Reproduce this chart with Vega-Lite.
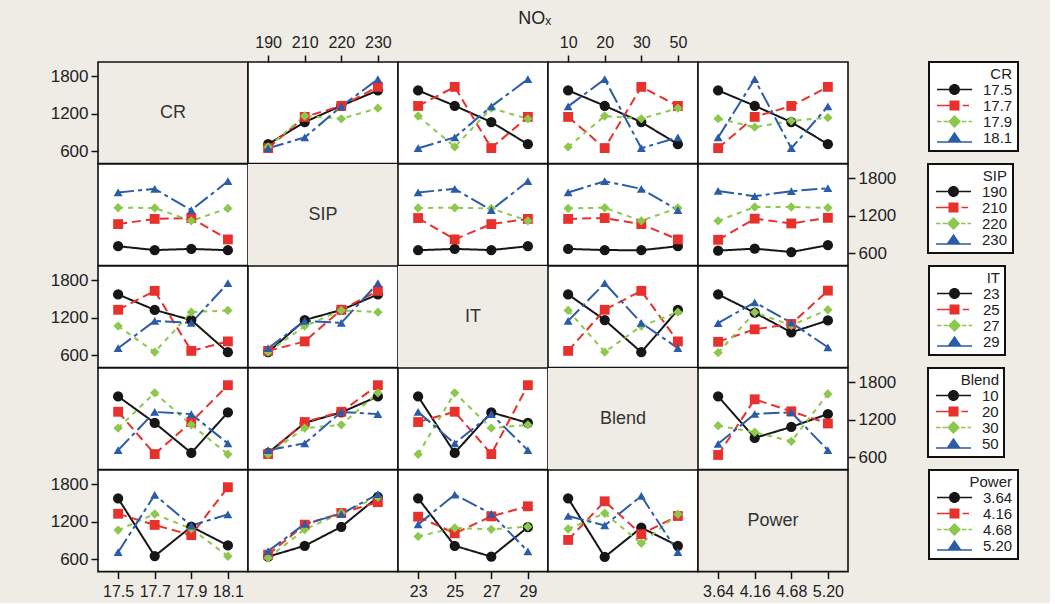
{
"$schema": "https://vega.github.io/schema/vega-lite/v6.json",
"background": "#efece6",
"padding": {"left": 49, "top": 10, "right": 30, "bottom": 2},
"title": {"text": "NOₓ", "anchor": "middle", "fontSize": 18, "fontWeight": "normal", "color": "#222", "offset": 5},
"datasets": {"cells": [
{"f1":"CR","l1":"17.5","f2":"SIP","l2":"190","y":711},{"f1":"CR","l1":"17.5","f2":"SIP","l2":"210","y":1066},{"f1":"CR","l1":"17.5","f2":"SIP","l2":"220","y":1328},{"f1":"CR","l1":"17.5","f2":"SIP","l2":"230","y":1574},
{"f1":"CR","l1":"17.7","f2":"SIP","l2":"190","y":649},{"f1":"CR","l1":"17.7","f2":"SIP","l2":"210","y":1149},{"f1":"CR","l1":"17.7","f2":"SIP","l2":"220","y":1325},{"f1":"CR","l1":"17.7","f2":"SIP","l2":"230","y":1631},
{"f1":"CR","l1":"17.9","f2":"SIP","l2":"190","y":668},{"f1":"CR","l1":"17.9","f2":"SIP","l2":"210","y":1163},{"f1":"CR","l1":"17.9","f2":"SIP","l2":"220","y":1118},{"f1":"CR","l1":"17.9","f2":"SIP","l2":"230","y":1290},
{"f1":"CR","l1":"18.1","f2":"SIP","l2":"190","y":647},{"f1":"CR","l1":"18.1","f2":"SIP","l2":"210","y":820},{"f1":"CR","l1":"18.1","f2":"SIP","l2":"220","y":1318},{"f1":"CR","l1":"18.1","f2":"SIP","l2":"230","y":1754},
{"f1":"CR","l1":"17.5","f2":"IT","l2":"23","y":1574},{"f1":"CR","l1":"17.5","f2":"IT","l2":"25","y":1328},{"f1":"CR","l1":"17.5","f2":"IT","l2":"27","y":1066},{"f1":"CR","l1":"17.5","f2":"IT","l2":"29","y":711},
{"f1":"CR","l1":"17.7","f2":"IT","l2":"23","y":1325},{"f1":"CR","l1":"17.7","f2":"IT","l2":"25","y":1631},{"f1":"CR","l1":"17.7","f2":"IT","l2":"27","y":649},{"f1":"CR","l1":"17.7","f2":"IT","l2":"29","y":1149},
{"f1":"CR","l1":"17.9","f2":"IT","l2":"23","y":1163},{"f1":"CR","l1":"17.9","f2":"IT","l2":"25","y":668},{"f1":"CR","l1":"17.9","f2":"IT","l2":"27","y":1290},{"f1":"CR","l1":"17.9","f2":"IT","l2":"29","y":1118},
{"f1":"CR","l1":"18.1","f2":"IT","l2":"23","y":647},{"f1":"CR","l1":"18.1","f2":"IT","l2":"25","y":820},{"f1":"CR","l1":"18.1","f2":"IT","l2":"27","y":1318},{"f1":"CR","l1":"18.1","f2":"IT","l2":"29","y":1754},
{"f1":"CR","l1":"17.5","f2":"Blend","l2":"10","y":1574},{"f1":"CR","l1":"17.5","f2":"Blend","l2":"20","y":1328},{"f1":"CR","l1":"17.5","f2":"Blend","l2":"30","y":1066},{"f1":"CR","l1":"17.5","f2":"Blend","l2":"50","y":711},
{"f1":"CR","l1":"17.7","f2":"Blend","l2":"10","y":1149},{"f1":"CR","l1":"17.7","f2":"Blend","l2":"20","y":649},{"f1":"CR","l1":"17.7","f2":"Blend","l2":"30","y":1631},{"f1":"CR","l1":"17.7","f2":"Blend","l2":"50","y":1325},
{"f1":"CR","l1":"17.9","f2":"Blend","l2":"10","y":668},{"f1":"CR","l1":"17.9","f2":"Blend","l2":"20","y":1163},{"f1":"CR","l1":"17.9","f2":"Blend","l2":"30","y":1118},{"f1":"CR","l1":"17.9","f2":"Blend","l2":"50","y":1290},
{"f1":"CR","l1":"18.1","f2":"Blend","l2":"10","y":1318},{"f1":"CR","l1":"18.1","f2":"Blend","l2":"20","y":1754},{"f1":"CR","l1":"18.1","f2":"Blend","l2":"30","y":647},{"f1":"CR","l1":"18.1","f2":"Blend","l2":"50","y":820},
{"f1":"CR","l1":"17.5","f2":"Power","l2":"3.64","y":1574},{"f1":"CR","l1":"17.5","f2":"Power","l2":"4.16","y":1328},{"f1":"CR","l1":"17.5","f2":"Power","l2":"4.68","y":1066},{"f1":"CR","l1":"17.5","f2":"Power","l2":"5.20","y":711},
{"f1":"CR","l1":"17.7","f2":"Power","l2":"3.64","y":649},{"f1":"CR","l1":"17.7","f2":"Power","l2":"4.16","y":1149},{"f1":"CR","l1":"17.7","f2":"Power","l2":"4.68","y":1325},{"f1":"CR","l1":"17.7","f2":"Power","l2":"5.20","y":1631},
{"f1":"CR","l1":"17.9","f2":"Power","l2":"3.64","y":1121},{"f1":"CR","l1":"17.9","f2":"Power","l2":"4.16","y":985},{"f1":"CR","l1":"17.9","f2":"Power","l2":"4.68","y":1086},{"f1":"CR","l1":"17.9","f2":"Power","l2":"5.20","y":1137},
{"f1":"CR","l1":"18.1","f2":"Power","l2":"3.64","y":820},{"f1":"CR","l1":"18.1","f2":"Power","l2":"4.16","y":1754},{"f1":"CR","l1":"18.1","f2":"Power","l2":"4.68","y":647},{"f1":"CR","l1":"18.1","f2":"Power","l2":"5.20","y":1318},
{"f1":"SIP","l1":"190","f2":"IT","l2":"23","y":647},{"f1":"SIP","l1":"190","f2":"IT","l2":"25","y":668},{"f1":"SIP","l1":"190","f2":"IT","l2":"27","y":649},{"f1":"SIP","l1":"190","f2":"IT","l2":"29","y":711},
{"f1":"SIP","l1":"210","f2":"IT","l2":"23","y":1163},{"f1":"SIP","l1":"210","f2":"IT","l2":"25","y":820},{"f1":"SIP","l1":"210","f2":"IT","l2":"27","y":1066},{"f1":"SIP","l1":"210","f2":"IT","l2":"29","y":1149},
{"f1":"SIP","l1":"220","f2":"IT","l2":"23","y":1325},{"f1":"SIP","l1":"220","f2":"IT","l2":"25","y":1328},{"f1":"SIP","l1":"220","f2":"IT","l2":"27","y":1318},{"f1":"SIP","l1":"220","f2":"IT","l2":"29","y":1118},
{"f1":"SIP","l1":"230","f2":"IT","l2":"23","y":1574},{"f1":"SIP","l1":"230","f2":"IT","l2":"25","y":1631},{"f1":"SIP","l1":"230","f2":"IT","l2":"27","y":1290},{"f1":"SIP","l1":"230","f2":"IT","l2":"29","y":1754},
{"f1":"SIP","l1":"190","f2":"Blend","l2":"10","y":668},{"f1":"SIP","l1":"190","f2":"Blend","l2":"20","y":649},{"f1":"SIP","l1":"190","f2":"Blend","l2":"30","y":647},{"f1":"SIP","l1":"190","f2":"Blend","l2":"50","y":711},
{"f1":"SIP","l1":"210","f2":"Blend","l2":"10","y":1149},{"f1":"SIP","l1":"210","f2":"Blend","l2":"20","y":1163},{"f1":"SIP","l1":"210","f2":"Blend","l2":"30","y":1066},{"f1":"SIP","l1":"210","f2":"Blend","l2":"50","y":820},
{"f1":"SIP","l1":"220","f2":"Blend","l2":"10","y":1318},{"f1":"SIP","l1":"220","f2":"Blend","l2":"20","y":1328},{"f1":"SIP","l1":"220","f2":"Blend","l2":"30","y":1118},{"f1":"SIP","l1":"220","f2":"Blend","l2":"50","y":1325},
{"f1":"SIP","l1":"230","f2":"Blend","l2":"10","y":1574},{"f1":"SIP","l1":"230","f2":"Blend","l2":"20","y":1754},{"f1":"SIP","l1":"230","f2":"Blend","l2":"30","y":1631},{"f1":"SIP","l1":"230","f2":"Blend","l2":"50","y":1290},
{"f1":"SIP","l1":"190","f2":"Power","l2":"3.64","y":640},{"f1":"SIP","l1":"190","f2":"Power","l2":"4.16","y":672},{"f1":"SIP","l1":"190","f2":"Power","l2":"4.68","y":618},{"f1":"SIP","l1":"190","f2":"Power","l2":"5.20","y":728},
{"f1":"SIP","l1":"210","f2":"Power","l2":"3.64","y":814},{"f1":"SIP","l1":"210","f2":"Power","l2":"4.16","y":1153},{"f1":"SIP","l1":"210","f2":"Power","l2":"4.68","y":1076},{"f1":"SIP","l1":"210","f2":"Power","l2":"5.20","y":1166},
{"f1":"SIP","l1":"220","f2":"Power","l2":"3.64","y":1118},{"f1":"SIP","l1":"220","f2":"Power","l2":"4.16","y":1340},{"f1":"SIP","l1":"220","f2":"Power","l2":"4.68","y":1340},{"f1":"SIP","l1":"220","f2":"Power","l2":"5.20","y":1327},
{"f1":"SIP","l1":"230","f2":"Power","l2":"3.64","y":1597},{"f1":"SIP","l1":"230","f2":"Power","l2":"4.16","y":1514},{"f1":"SIP","l1":"230","f2":"Power","l2":"4.68","y":1594},{"f1":"SIP","l1":"230","f2":"Power","l2":"5.20","y":1642},
{"f1":"IT","l1":"23","f2":"Blend","l2":"10","y":1574},{"f1":"IT","l1":"23","f2":"Blend","l2":"20","y":1163},{"f1":"IT","l1":"23","f2":"Blend","l2":"30","y":647},{"f1":"IT","l1":"23","f2":"Blend","l2":"50","y":1325},
{"f1":"IT","l1":"25","f2":"Blend","l2":"10","y":668},{"f1":"IT","l1":"25","f2":"Blend","l2":"20","y":1328},{"f1":"IT","l1":"25","f2":"Blend","l2":"30","y":1631},{"f1":"IT","l1":"25","f2":"Blend","l2":"50","y":820},
{"f1":"IT","l1":"27","f2":"Blend","l2":"10","y":1318},{"f1":"IT","l1":"27","f2":"Blend","l2":"20","y":649},{"f1":"IT","l1":"27","f2":"Blend","l2":"30","y":1066},{"f1":"IT","l1":"27","f2":"Blend","l2":"50","y":1290},
{"f1":"IT","l1":"29","f2":"Blend","l2":"10","y":1149},{"f1":"IT","l1":"29","f2":"Blend","l2":"20","y":1754},{"f1":"IT","l1":"29","f2":"Blend","l2":"30","y":1118},{"f1":"IT","l1":"29","f2":"Blend","l2":"50","y":711},
{"f1":"IT","l1":"23","f2":"Power","l2":"3.64","y":1575},{"f1":"IT","l1":"23","f2":"Power","l2":"4.16","y":1281},{"f1":"IT","l1":"23","f2":"Power","l2":"4.68","y":965},{"f1":"IT","l1":"23","f2":"Power","l2":"5.20","y":1156},
{"f1":"IT","l1":"25","f2":"Power","l2":"3.64","y":814},{"f1":"IT","l1":"25","f2":"Power","l2":"4.16","y":1014},{"f1":"IT","l1":"25","f2":"Power","l2":"4.68","y":1100},{"f1":"IT","l1":"25","f2":"Power","l2":"5.20","y":1635},
{"f1":"IT","l1":"27","f2":"Power","l2":"3.64","y":640},{"f1":"IT","l1":"27","f2":"Power","l2":"4.16","y":1286},{"f1":"IT","l1":"27","f2":"Power","l2":"4.68","y":1078},{"f1":"IT","l1":"27","f2":"Power","l2":"5.20","y":1327},
{"f1":"IT","l1":"29","f2":"Power","l2":"3.64","y":1113},{"f1":"IT","l1":"29","f2":"Power","l2":"4.16","y":1448},{"f1":"IT","l1":"29","f2":"Power","l2":"4.68","y":1121},{"f1":"IT","l1":"29","f2":"Power","l2":"5.20","y":726},
{"f1":"Blend","l1":"10","f2":"Power","l2":"3.64","y":1575},{"f1":"Blend","l1":"10","f2":"Power","l2":"4.16","y":908},{"f1":"Blend","l1":"10","f2":"Power","l2":"4.68","y":1084},{"f1":"Blend","l1":"10","f2":"Power","l2":"5.20","y":1292},
{"f1":"Blend","l1":"20","f2":"Power","l2":"3.64","y":635},{"f1":"Blend","l1":"20","f2":"Power","l2":"4.16","y":1528},{"f1":"Blend","l1":"20","f2":"Power","l2":"4.68","y":1335},{"f1":"Blend","l1":"20","f2":"Power","l2":"5.20","y":1140},
{"f1":"Blend","l1":"30","f2":"Power","l2":"3.64","y":1105},{"f1":"Blend","l1":"30","f2":"Power","l2":"4.16","y":1000},{"f1":"Blend","l1":"30","f2":"Power","l2":"4.68","y":853},{"f1":"Blend","l1":"30","f2":"Power","l2":"5.20","y":1613},
{"f1":"Blend","l1":"50","f2":"Power","l2":"3.64","y":814},{"f1":"Blend","l1":"50","f2":"Power","l2":"4.16","y":1292},{"f1":"Blend","l1":"50","f2":"Power","l2":"4.68","y":1319},{"f1":"Blend","l1":"50","f2":"Power","l2":"5.20","y":712}
]},
"columns": 5,
"spacing": 0,
"bounds": "flush",
"concat": [
{"width":150,"height":101.6,"view":{"fill":"#efece6"},"layer":[
 {"data":{"values":[{"name":"CR"}]},"mark":{"type":"text","fontSize":18,"color":"#333"},"encoding":{"text":{"field":"name"}}},
 {"data":{"name":"cells"},"transform":[{"filter":"false"}],"mark":"point","encoding":{"y":{"field":"y","type":"quantitative","scale":{"domain":[400,2030],"nice":false,"zero":false},"axis":{"orient":"left","values":[600,1200,1800],"format":"d","title":null}}}}
]},
{"width":150,"height":101.6,"view":{"fill":"white"},"data":{"name":"cells"},"transform":[{"filter":"datum.f1=='CR' && datum.f2=='SIP'"}],
 "encoding":{"x":{"field":"l2","type":"nominal","scale":{"type":"point","domain":["190","210","220","230"],"padding":0.55},"axis":{"orient":"top","title":null,"labelAngle":0}},
  "y":{"field":"y","type":"quantitative","scale":{"domain":[400,2030],"nice":false,"zero":false},"axis":null},
  "color":{"field":"l1","type":"nominal","scale":{"domain":["17.5","17.7","17.9","18.1"],"range":["#161616","#e8312c","#8cc84b","#2b5ca8"]},"legend":null}},
 "layer":[
  {"mark":{"type":"line","strokeWidth":2},"encoding":{"strokeDash":{"field":"l1","type":"nominal","scale":{"domain":["17.5","17.7","17.9","18.1"],"range":[[1,0],[9,5],[5,5],[16,4,4,4]]},"legend":null}}},
  {"mark":{"type":"point","filled":true,"opacity":1},"encoding":{"shape":{"field":"l1","type":"nominal","scale":{"domain":["17.5","17.7","17.9","18.1"],"range":["circle","square","diamond","triangle-up"]},"legend":null},"size":{"field":"l1","type":"ordinal","scale":{"domain":["17.5","17.7","17.9","18.1"],"range":[105,80,120,160]},"legend":null}}}
 ]},
{"width":150,"height":101.6,"view":{"fill":"white"},"data":{"name":"cells"},"transform":[{"filter":"datum.f1=='CR' && datum.f2=='IT'"}],
 "encoding":{"x":{"field":"l2","type":"nominal","scale":{"type":"point","domain":["23","25","27","29"],"padding":0.55},"axis":null},
  "y":{"field":"y","type":"quantitative","scale":{"domain":[400,2030],"nice":false,"zero":false},"axis":null},
  "color":{"field":"l1","type":"nominal","scale":{"domain":["17.5","17.7","17.9","18.1"],"range":["#161616","#e8312c","#8cc84b","#2b5ca8"]},"legend":null}},
 "layer":[
  {"mark":{"type":"line","strokeWidth":2},"encoding":{"strokeDash":{"field":"l1","type":"nominal","scale":{"domain":["17.5","17.7","17.9","18.1"],"range":[[1,0],[9,5],[5,5],[16,4,4,4]]},"legend":null}}},
  {"mark":{"type":"point","filled":true,"opacity":1},"encoding":{"shape":{"field":"l1","type":"nominal","scale":{"domain":["17.5","17.7","17.9","18.1"],"range":["circle","square","diamond","triangle-up"]},"legend":null},"size":{"field":"l1","type":"ordinal","scale":{"domain":["17.5","17.7","17.9","18.1"],"range":[105,80,120,160]},"legend":null}}}
 ]},
{"width":150,"height":101.6,"view":{"fill":"white"},"data":{"name":"cells"},"transform":[{"filter":"datum.f1=='CR' && datum.f2=='Blend'"}],
 "encoding":{"x":{"field":"l2","type":"nominal","scale":{"type":"point","domain":["10","20","30","50"],"padding":0.55},"axis":{"orient":"top","title":null,"labelAngle":0}},
  "y":{"field":"y","type":"quantitative","scale":{"domain":[400,2030],"nice":false,"zero":false},"axis":null},
  "color":{"field":"l1","type":"nominal","scale":{"domain":["17.5","17.7","17.9","18.1"],"range":["#161616","#e8312c","#8cc84b","#2b5ca8"]},"legend":null}},
 "layer":[
  {"mark":{"type":"line","strokeWidth":2},"encoding":{"strokeDash":{"field":"l1","type":"nominal","scale":{"domain":["17.5","17.7","17.9","18.1"],"range":[[1,0],[9,5],[5,5],[16,4,4,4]]},"legend":null}}},
  {"mark":{"type":"point","filled":true,"opacity":1},"encoding":{"shape":{"field":"l1","type":"nominal","scale":{"domain":["17.5","17.7","17.9","18.1"],"range":["circle","square","diamond","triangle-up"]},"legend":null},"size":{"field":"l1","type":"ordinal","scale":{"domain":["17.5","17.7","17.9","18.1"],"range":[105,80,120,160]},"legend":null}}}
 ]},
{"width":150,"height":101.6,"view":{"fill":"white"},"data":{"name":"cells"},"transform":[{"filter":"datum.f1=='CR' && datum.f2=='Power'"}],
 "resolve":{"scale":{"color":"independent","shape":"independent","size":"independent","strokeDash":"independent"}},
 "encoding":{"x":{"field":"l2","type":"nominal","scale":{"type":"point","domain":["3.64","4.16","4.68","5.20"],"padding":0.55},"axis":null},
  "y":{"field":"y","type":"quantitative","scale":{"domain":[400,2030],"nice":false,"zero":false},"axis":null},
  "color":{"field":"l1","type":"nominal","scale":{"domain":["17.5","17.7","17.9","18.1"],"range":["#161616","#e8312c","#8cc84b","#2b5ca8"]},"legend":null}},
 "layer":[
  {"mark":{"type":"line","strokeWidth":2},"encoding":{"strokeDash":{"field":"l1","type":"nominal","scale":{"domain":["17.5","17.7","17.9","18.1"],"range":[[1,0],[9,5],[5,5],[16,4,4,4]]},"legend":null}}},
  {"mark":{"type":"point","filled":true,"opacity":1},"encoding":{"shape":{"field":"l1","type":"nominal","scale":{"domain":["17.5","17.7","17.9","18.1"],"range":["circle","square","diamond","triangle-up"]},"legend":null},"size":{"field":"l1","type":"ordinal","scale":{"domain":["17.5","17.7","17.9","18.1"],"range":[105,80,120,160]},"legend":null}}},
  {"transform":[{"filter":"false"}],"mark":{"type":"point","filled":true,"size":100,"opacity":1},"encoding":{
   "color":{"field":"l1","type":"nominal","scale":{"domain":["17.5","17.7","17.9","18.1"],"range":["#161616","#e8312c","#8cc84b","#2b5ca8"]},"legend":{"title":"CR","offset":81}},
   "shape":{"field":"l1","type":"nominal","scale":{"domain":["17.5","17.7","17.9","18.1"],"range":["M-3.5,-0.15H3.5V0.15H-3.5Z M1.1,0A1.1,1.1,0,1,1,-1.1,0A1.1,1.1,0,1,1,1.1,0Z","M-3.5,-0.15H-1V0.15H-3.5Z M-1,-1H1V1H-1Z M1.6,-0.15H2.9V0.15H1.6Z","M-3.5,-0.13H-2.6V0.13H-3.5Z M-2.2,-0.13H-1.3V0.13H-2.2Z M0,-1.3L1.3,0L0,1.3L-1.3,0Z M1.5,-0.13H2.4V0.13H1.5Z M2.8,-0.13H3.5V0.13H2.8Z","M-3.5,0.75H3.5V1.05H-3.5Z M0,-1.15L1.4,0.9L-1.4,0.9Z"]},"legend":{"title":"CR","offset":81}}}}
 ]},

{"width":150,"height":101.6,"view":{"fill":"white"},"data":{"name":"cells"},"transform":[{"filter":"datum.f1=='CR' && datum.f2=='SIP'"}],
 "encoding":{"x":{"field":"l1","type":"nominal","scale":{"type":"point","domain":["17.5","17.7","17.9","18.1"],"padding":0.55},"axis":null},
  "y":{"field":"y","type":"quantitative","scale":{"domain":[400,2030],"nice":false,"zero":false},"axis":null},
  "color":{"field":"l2","type":"nominal","scale":{"domain":["190","210","220","230"],"range":["#161616","#e8312c","#8cc84b","#2b5ca8"]},"legend":null}},
 "layer":[
  {"mark":{"type":"line","strokeWidth":2},"encoding":{"strokeDash":{"field":"l2","type":"nominal","scale":{"domain":["190","210","220","230"],"range":[[1,0],[9,5],[5,5],[16,4,4,4]]},"legend":null}}},
  {"mark":{"type":"point","filled":true,"opacity":1},"encoding":{"shape":{"field":"l2","type":"nominal","scale":{"domain":["190","210","220","230"],"range":["circle","square","diamond","triangle-up"]},"legend":null},"size":{"field":"l2","type":"ordinal","scale":{"domain":["190","210","220","230"],"range":[105,80,120,160]},"legend":null}}}
 ]},
{"width":150,"height":101.6,"view":{"fill":"#efece6"},"layer":[
 {"data":{"values":[{"name":"SIP"}]},"mark":{"type":"text","fontSize":18,"color":"#333"},"encoding":{"text":{"field":"name"}}}
]},
{"width":150,"height":101.6,"view":{"fill":"white"},"data":{"name":"cells"},"transform":[{"filter":"datum.f1=='SIP' && datum.f2=='IT'"}],
 "encoding":{"x":{"field":"l2","type":"nominal","scale":{"type":"point","domain":["23","25","27","29"],"padding":0.55},"axis":null},
  "y":{"field":"y","type":"quantitative","scale":{"domain":[400,2030],"nice":false,"zero":false},"axis":null},
  "color":{"field":"l1","type":"nominal","scale":{"domain":["190","210","220","230"],"range":["#161616","#e8312c","#8cc84b","#2b5ca8"]},"legend":null}},
 "layer":[
  {"mark":{"type":"line","strokeWidth":2},"encoding":{"strokeDash":{"field":"l1","type":"nominal","scale":{"domain":["190","210","220","230"],"range":[[1,0],[9,5],[5,5],[16,4,4,4]]},"legend":null}}},
  {"mark":{"type":"point","filled":true,"opacity":1},"encoding":{"shape":{"field":"l1","type":"nominal","scale":{"domain":["190","210","220","230"],"range":["circle","square","diamond","triangle-up"]},"legend":null},"size":{"field":"l1","type":"ordinal","scale":{"domain":["190","210","220","230"],"range":[105,80,120,160]},"legend":null}}}
 ]},
{"width":150,"height":101.6,"view":{"fill":"white"},"data":{"name":"cells"},"transform":[{"filter":"datum.f1=='SIP' && datum.f2=='Blend'"}],
 "encoding":{"x":{"field":"l2","type":"nominal","scale":{"type":"point","domain":["10","20","30","50"],"padding":0.55},"axis":null},
  "y":{"field":"y","type":"quantitative","scale":{"domain":[400,2030],"nice":false,"zero":false},"axis":null},
  "color":{"field":"l1","type":"nominal","scale":{"domain":["190","210","220","230"],"range":["#161616","#e8312c","#8cc84b","#2b5ca8"]},"legend":null}},
 "layer":[
  {"mark":{"type":"line","strokeWidth":2},"encoding":{"strokeDash":{"field":"l1","type":"nominal","scale":{"domain":["190","210","220","230"],"range":[[1,0],[9,5],[5,5],[16,4,4,4]]},"legend":null}}},
  {"mark":{"type":"point","filled":true,"opacity":1},"encoding":{"shape":{"field":"l1","type":"nominal","scale":{"domain":["190","210","220","230"],"range":["circle","square","diamond","triangle-up"]},"legend":null},"size":{"field":"l1","type":"ordinal","scale":{"domain":["190","210","220","230"],"range":[105,80,120,160]},"legend":null}}}
 ]},
{"width":150,"height":101.6,"view":{"fill":"white"},"data":{"name":"cells"},"transform":[{"filter":"datum.f1=='SIP' && datum.f2=='Power'"}],
 "resolve":{"scale":{"color":"independent","shape":"independent","size":"independent","strokeDash":"independent"}},
 "encoding":{"x":{"field":"l2","type":"nominal","scale":{"type":"point","domain":["3.64","4.16","4.68","5.20"],"padding":0.55},"axis":null},
  "y":{"field":"y","type":"quantitative","scale":{"domain":[400,2030],"nice":false,"zero":false},"axis":{"orient":"right","values":[600,1200,1800],"format":"d","title":null}},
  "color":{"field":"l1","type":"nominal","scale":{"domain":["190","210","220","230"],"range":["#161616","#e8312c","#8cc84b","#2b5ca8"]},"legend":null}},
 "layer":[
  {"mark":{"type":"line","strokeWidth":2},"encoding":{"strokeDash":{"field":"l1","type":"nominal","scale":{"domain":["190","210","220","230"],"range":[[1,0],[9,5],[5,5],[16,4,4,4]]},"legend":null}}},
  {"mark":{"type":"point","filled":true,"opacity":1},"encoding":{"shape":{"field":"l1","type":"nominal","scale":{"domain":["190","210","220","230"],"range":["circle","square","diamond","triangle-up"]},"legend":null},"size":{"field":"l1","type":"ordinal","scale":{"domain":["190","210","220","230"],"range":[105,80,120,160]},"legend":null}}},
  {"transform":[{"filter":"false"}],"mark":{"type":"point","filled":true,"size":100,"opacity":1},"encoding":{
   "color":{"field":"l1","type":"nominal","scale":{"domain":["190","210","220","230"],"range":["#161616","#e8312c","#8cc84b","#2b5ca8"]},"legend":{"title":"SIP","offset":32}},
   "shape":{"field":"l1","type":"nominal","scale":{"domain":["190","210","220","230"],"range":["M-3.5,-0.15H3.5V0.15H-3.5Z M1.1,0A1.1,1.1,0,1,1,-1.1,0A1.1,1.1,0,1,1,1.1,0Z","M-3.5,-0.15H-1V0.15H-3.5Z M-1,-1H1V1H-1Z M1.6,-0.15H2.9V0.15H1.6Z","M-3.5,-0.13H-2.6V0.13H-3.5Z M-2.2,-0.13H-1.3V0.13H-2.2Z M0,-1.3L1.3,0L0,1.3L-1.3,0Z M1.5,-0.13H2.4V0.13H1.5Z M2.8,-0.13H3.5V0.13H2.8Z","M-3.5,0.75H3.5V1.05H-3.5Z M0,-1.15L1.4,0.9L-1.4,0.9Z"]},"legend":{"title":"SIP","offset":32}}}}
 ]},

{"width":150,"height":101.6,"view":{"fill":"white"},"data":{"name":"cells"},"transform":[{"filter":"datum.f1=='CR' && datum.f2=='IT'"}],
 "encoding":{"x":{"field":"l1","type":"nominal","scale":{"type":"point","domain":["17.5","17.7","17.9","18.1"],"padding":0.55},"axis":null},
  "y":{"field":"y","type":"quantitative","scale":{"domain":[400,2030],"nice":false,"zero":false},"axis":{"orient":"left","values":[600,1200,1800],"format":"d","title":null}},
  "color":{"field":"l2","type":"nominal","scale":{"domain":["23","25","27","29"],"range":["#161616","#e8312c","#8cc84b","#2b5ca8"]},"legend":null}},
 "layer":[
  {"mark":{"type":"line","strokeWidth":2},"encoding":{"strokeDash":{"field":"l2","type":"nominal","scale":{"domain":["23","25","27","29"],"range":[[1,0],[9,5],[5,5],[16,4,4,4]]},"legend":null}}},
  {"mark":{"type":"point","filled":true,"opacity":1},"encoding":{"shape":{"field":"l2","type":"nominal","scale":{"domain":["23","25","27","29"],"range":["circle","square","diamond","triangle-up"]},"legend":null},"size":{"field":"l2","type":"ordinal","scale":{"domain":["23","25","27","29"],"range":[105,80,120,160]},"legend":null}}}
 ]},
{"width":150,"height":101.6,"view":{"fill":"white"},"data":{"name":"cells"},"transform":[{"filter":"datum.f1=='SIP' && datum.f2=='IT'"}],
 "encoding":{"x":{"field":"l1","type":"nominal","scale":{"type":"point","domain":["190","210","220","230"],"padding":0.55},"axis":null},
  "y":{"field":"y","type":"quantitative","scale":{"domain":[400,2030],"nice":false,"zero":false},"axis":null},
  "color":{"field":"l2","type":"nominal","scale":{"domain":["23","25","27","29"],"range":["#161616","#e8312c","#8cc84b","#2b5ca8"]},"legend":null}},
 "layer":[
  {"mark":{"type":"line","strokeWidth":2},"encoding":{"strokeDash":{"field":"l2","type":"nominal","scale":{"domain":["23","25","27","29"],"range":[[1,0],[9,5],[5,5],[16,4,4,4]]},"legend":null}}},
  {"mark":{"type":"point","filled":true,"opacity":1},"encoding":{"shape":{"field":"l2","type":"nominal","scale":{"domain":["23","25","27","29"],"range":["circle","square","diamond","triangle-up"]},"legend":null},"size":{"field":"l2","type":"ordinal","scale":{"domain":["23","25","27","29"],"range":[105,80,120,160]},"legend":null}}}
 ]},
{"width":150,"height":101.6,"view":{"fill":"#efece6"},"layer":[
 {"data":{"values":[{"name":"IT"}]},"mark":{"type":"text","fontSize":18,"color":"#333"},"encoding":{"text":{"field":"name"}}}
]},
{"width":150,"height":101.6,"view":{"fill":"white"},"data":{"name":"cells"},"transform":[{"filter":"datum.f1=='IT' && datum.f2=='Blend'"}],
 "encoding":{"x":{"field":"l2","type":"nominal","scale":{"type":"point","domain":["10","20","30","50"],"padding":0.55},"axis":null},
  "y":{"field":"y","type":"quantitative","scale":{"domain":[400,2030],"nice":false,"zero":false},"axis":null},
  "color":{"field":"l1","type":"nominal","scale":{"domain":["23","25","27","29"],"range":["#161616","#e8312c","#8cc84b","#2b5ca8"]},"legend":null}},
 "layer":[
  {"mark":{"type":"line","strokeWidth":2},"encoding":{"strokeDash":{"field":"l1","type":"nominal","scale":{"domain":["23","25","27","29"],"range":[[1,0],[9,5],[5,5],[16,4,4,4]]},"legend":null}}},
  {"mark":{"type":"point","filled":true,"opacity":1},"encoding":{"shape":{"field":"l1","type":"nominal","scale":{"domain":["23","25","27","29"],"range":["circle","square","diamond","triangle-up"]},"legend":null},"size":{"field":"l1","type":"ordinal","scale":{"domain":["23","25","27","29"],"range":[105,80,120,160]},"legend":null}}}
 ]},
{"width":150,"height":101.6,"view":{"fill":"white"},"data":{"name":"cells"},"transform":[{"filter":"datum.f1=='IT' && datum.f2=='Power'"}],
 "resolve":{"scale":{"color":"independent","shape":"independent","size":"independent","strokeDash":"independent"}},
 "encoding":{"x":{"field":"l2","type":"nominal","scale":{"type":"point","domain":["3.64","4.16","4.68","5.20"],"padding":0.55},"axis":null},
  "y":{"field":"y","type":"quantitative","scale":{"domain":[400,2030],"nice":false,"zero":false},"axis":null},
  "color":{"field":"l1","type":"nominal","scale":{"domain":["23","25","27","29"],"range":["#161616","#e8312c","#8cc84b","#2b5ca8"]},"legend":null}},
 "layer":[
  {"mark":{"type":"line","strokeWidth":2},"encoding":{"strokeDash":{"field":"l1","type":"nominal","scale":{"domain":["23","25","27","29"],"range":[[1,0],[9,5],[5,5],[16,4,4,4]]},"legend":null}}},
  {"mark":{"type":"point","filled":true,"opacity":1},"encoding":{"shape":{"field":"l1","type":"nominal","scale":{"domain":["23","25","27","29"],"range":["circle","square","diamond","triangle-up"]},"legend":null},"size":{"field":"l1","type":"ordinal","scale":{"domain":["23","25","27","29"],"range":[105,80,120,160]},"legend":null}}},
  {"transform":[{"filter":"false"}],"mark":{"type":"point","filled":true,"size":100,"opacity":1},"encoding":{
   "color":{"field":"l1","type":"nominal","scale":{"domain":["23","25","27","29"],"range":["#161616","#e8312c","#8cc84b","#2b5ca8"]},"legend":{"title":"IT","offset":81}},
   "shape":{"field":"l1","type":"nominal","scale":{"domain":["23","25","27","29"],"range":["M-3.5,-0.15H3.5V0.15H-3.5Z M1.1,0A1.1,1.1,0,1,1,-1.1,0A1.1,1.1,0,1,1,1.1,0Z","M-3.5,-0.15H-1V0.15H-3.5Z M-1,-1H1V1H-1Z M1.6,-0.15H2.9V0.15H1.6Z","M-3.5,-0.13H-2.6V0.13H-3.5Z M-2.2,-0.13H-1.3V0.13H-2.2Z M0,-1.3L1.3,0L0,1.3L-1.3,0Z M1.5,-0.13H2.4V0.13H1.5Z M2.8,-0.13H3.5V0.13H2.8Z","M-3.5,0.75H3.5V1.05H-3.5Z M0,-1.15L1.4,0.9L-1.4,0.9Z"]},"legend":{"title":"IT","offset":81}}}}
 ]},

{"width":150,"height":101.6,"view":{"fill":"white"},"data":{"name":"cells"},"transform":[{"filter":"datum.f1=='CR' && datum.f2=='Blend'"}],
 "encoding":{"x":{"field":"l1","type":"nominal","scale":{"type":"point","domain":["17.5","17.7","17.9","18.1"],"padding":0.55},"axis":null},
  "y":{"field":"y","type":"quantitative","scale":{"domain":[400,2030],"nice":false,"zero":false},"axis":null},
  "color":{"field":"l2","type":"nominal","scale":{"domain":["10","20","30","50"],"range":["#161616","#e8312c","#8cc84b","#2b5ca8"]},"legend":null}},
 "layer":[
  {"mark":{"type":"line","strokeWidth":2},"encoding":{"strokeDash":{"field":"l2","type":"nominal","scale":{"domain":["10","20","30","50"],"range":[[1,0],[9,5],[5,5],[16,4,4,4]]},"legend":null}}},
  {"mark":{"type":"point","filled":true,"opacity":1},"encoding":{"shape":{"field":"l2","type":"nominal","scale":{"domain":["10","20","30","50"],"range":["circle","square","diamond","triangle-up"]},"legend":null},"size":{"field":"l2","type":"ordinal","scale":{"domain":["10","20","30","50"],"range":[105,80,120,160]},"legend":null}}}
 ]},
{"width":150,"height":101.6,"view":{"fill":"white"},"data":{"name":"cells"},"transform":[{"filter":"datum.f1=='SIP' && datum.f2=='Blend'"}],
 "encoding":{"x":{"field":"l1","type":"nominal","scale":{"type":"point","domain":["190","210","220","230"],"padding":0.55},"axis":null},
  "y":{"field":"y","type":"quantitative","scale":{"domain":[400,2030],"nice":false,"zero":false},"axis":null},
  "color":{"field":"l2","type":"nominal","scale":{"domain":["10","20","30","50"],"range":["#161616","#e8312c","#8cc84b","#2b5ca8"]},"legend":null}},
 "layer":[
  {"mark":{"type":"line","strokeWidth":2},"encoding":{"strokeDash":{"field":"l2","type":"nominal","scale":{"domain":["10","20","30","50"],"range":[[1,0],[9,5],[5,5],[16,4,4,4]]},"legend":null}}},
  {"mark":{"type":"point","filled":true,"opacity":1},"encoding":{"shape":{"field":"l2","type":"nominal","scale":{"domain":["10","20","30","50"],"range":["circle","square","diamond","triangle-up"]},"legend":null},"size":{"field":"l2","type":"ordinal","scale":{"domain":["10","20","30","50"],"range":[105,80,120,160]},"legend":null}}}
 ]},
{"width":150,"height":101.6,"view":{"fill":"white"},"data":{"name":"cells"},"transform":[{"filter":"datum.f1=='IT' && datum.f2=='Blend'"}],
 "encoding":{"x":{"field":"l1","type":"nominal","scale":{"type":"point","domain":["23","25","27","29"],"padding":0.55},"axis":null},
  "y":{"field":"y","type":"quantitative","scale":{"domain":[400,2030],"nice":false,"zero":false},"axis":null},
  "color":{"field":"l2","type":"nominal","scale":{"domain":["10","20","30","50"],"range":["#161616","#e8312c","#8cc84b","#2b5ca8"]},"legend":null}},
 "layer":[
  {"mark":{"type":"line","strokeWidth":2},"encoding":{"strokeDash":{"field":"l2","type":"nominal","scale":{"domain":["10","20","30","50"],"range":[[1,0],[9,5],[5,5],[16,4,4,4]]},"legend":null}}},
  {"mark":{"type":"point","filled":true,"opacity":1},"encoding":{"shape":{"field":"l2","type":"nominal","scale":{"domain":["10","20","30","50"],"range":["circle","square","diamond","triangle-up"]},"legend":null},"size":{"field":"l2","type":"ordinal","scale":{"domain":["10","20","30","50"],"range":[105,80,120,160]},"legend":null}}}
 ]},
{"width":150,"height":101.6,"view":{"fill":"#efece6"},"layer":[
 {"data":{"values":[{"name":"Blend"}]},"mark":{"type":"text","fontSize":18,"color":"#333"},"encoding":{"text":{"field":"name"}}}
]},
{"width":150,"height":101.6,"view":{"fill":"white"},"data":{"name":"cells"},"transform":[{"filter":"datum.f1=='Blend' && datum.f2=='Power'"}],
 "resolve":{"scale":{"color":"independent","shape":"independent","size":"independent","strokeDash":"independent"}},
 "encoding":{"x":{"field":"l2","type":"nominal","scale":{"type":"point","domain":["3.64","4.16","4.68","5.20"],"padding":0.55},"axis":null},
  "y":{"field":"y","type":"quantitative","scale":{"domain":[400,2030],"nice":false,"zero":false},"axis":{"orient":"right","values":[600,1200,1800],"format":"d","title":null}},
  "color":{"field":"l1","type":"nominal","scale":{"domain":["10","20","30","50"],"range":["#161616","#e8312c","#8cc84b","#2b5ca8"]},"legend":null}},
 "layer":[
  {"mark":{"type":"line","strokeWidth":2},"encoding":{"strokeDash":{"field":"l1","type":"nominal","scale":{"domain":["10","20","30","50"],"range":[[1,0],[9,5],[5,5],[16,4,4,4]]},"legend":null}}},
  {"mark":{"type":"point","filled":true,"opacity":1},"encoding":{"shape":{"field":"l1","type":"nominal","scale":{"domain":["10","20","30","50"],"range":["circle","square","diamond","triangle-up"]},"legend":null},"size":{"field":"l1","type":"ordinal","scale":{"domain":["10","20","30","50"],"range":[105,80,120,160]},"legend":null}}},
  {"transform":[{"filter":"false"}],"mark":{"type":"point","filled":true,"size":100,"opacity":1},"encoding":{
   "color":{"field":"l1","type":"nominal","scale":{"domain":["10","20","30","50"],"range":["#161616","#e8312c","#8cc84b","#2b5ca8"]},"legend":{"title":"Blend","offset":32}},
   "shape":{"field":"l1","type":"nominal","scale":{"domain":["10","20","30","50"],"range":["M-3.5,-0.15H3.5V0.15H-3.5Z M1.1,0A1.1,1.1,0,1,1,-1.1,0A1.1,1.1,0,1,1,1.1,0Z","M-3.5,-0.15H-1V0.15H-3.5Z M-1,-1H1V1H-1Z M1.6,-0.15H2.9V0.15H1.6Z","M-3.5,-0.13H-2.6V0.13H-3.5Z M-2.2,-0.13H-1.3V0.13H-2.2Z M0,-1.3L1.3,0L0,1.3L-1.3,0Z M1.5,-0.13H2.4V0.13H1.5Z M2.8,-0.13H3.5V0.13H2.8Z","M-3.5,0.75H3.5V1.05H-3.5Z M0,-1.15L1.4,0.9L-1.4,0.9Z"]},"legend":{"title":"Blend","offset":32}}}}
 ]},

{"width":150,"height":101.6,"view":{"fill":"white"},"data":{"name":"cells"},"transform":[{"filter":"datum.f1=='CR' && datum.f2=='Power'"}],
 "encoding":{"x":{"field":"l1","type":"nominal","scale":{"type":"point","domain":["17.5","17.7","17.9","18.1"],"padding":0.55},"axis":{"orient":"bottom","title":null,"labelAngle":0}},
  "y":{"field":"y","type":"quantitative","scale":{"domain":[400,2030],"nice":false,"zero":false},"axis":{"orient":"left","values":[600,1200,1800],"format":"d","title":null}},
  "color":{"field":"l2","type":"nominal","scale":{"domain":["3.64","4.16","4.68","5.20"],"range":["#161616","#e8312c","#8cc84b","#2b5ca8"]},"legend":null}},
 "layer":[
  {"mark":{"type":"line","strokeWidth":2},"encoding":{"strokeDash":{"field":"l2","type":"nominal","scale":{"domain":["3.64","4.16","4.68","5.20"],"range":[[1,0],[9,5],[5,5],[16,4,4,4]]},"legend":null}}},
  {"mark":{"type":"point","filled":true,"opacity":1},"encoding":{"shape":{"field":"l2","type":"nominal","scale":{"domain":["3.64","4.16","4.68","5.20"],"range":["circle","square","diamond","triangle-up"]},"legend":null},"size":{"field":"l2","type":"ordinal","scale":{"domain":["3.64","4.16","4.68","5.20"],"range":[105,80,120,160]},"legend":null}}}
 ]},
{"width":150,"height":101.6,"view":{"fill":"white"},"data":{"name":"cells"},"transform":[{"filter":"datum.f1=='SIP' && datum.f2=='Power'"}],
 "encoding":{"x":{"field":"l1","type":"nominal","scale":{"type":"point","domain":["190","210","220","230"],"padding":0.55},"axis":null},
  "y":{"field":"y","type":"quantitative","scale":{"domain":[400,2030],"nice":false,"zero":false},"axis":null},
  "color":{"field":"l2","type":"nominal","scale":{"domain":["3.64","4.16","4.68","5.20"],"range":["#161616","#e8312c","#8cc84b","#2b5ca8"]},"legend":null}},
 "layer":[
  {"mark":{"type":"line","strokeWidth":2},"encoding":{"strokeDash":{"field":"l2","type":"nominal","scale":{"domain":["3.64","4.16","4.68","5.20"],"range":[[1,0],[9,5],[5,5],[16,4,4,4]]},"legend":null}}},
  {"mark":{"type":"point","filled":true,"opacity":1},"encoding":{"shape":{"field":"l2","type":"nominal","scale":{"domain":["3.64","4.16","4.68","5.20"],"range":["circle","square","diamond","triangle-up"]},"legend":null},"size":{"field":"l2","type":"ordinal","scale":{"domain":["3.64","4.16","4.68","5.20"],"range":[105,80,120,160]},"legend":null}}}
 ]},
{"width":150,"height":101.6,"view":{"fill":"white"},"data":{"name":"cells"},"transform":[{"filter":"datum.f1=='IT' && datum.f2=='Power'"}],
 "encoding":{"x":{"field":"l1","type":"nominal","scale":{"type":"point","domain":["23","25","27","29"],"padding":0.55},"axis":{"orient":"bottom","title":null,"labelAngle":0}},
  "y":{"field":"y","type":"quantitative","scale":{"domain":[400,2030],"nice":false,"zero":false},"axis":null},
  "color":{"field":"l2","type":"nominal","scale":{"domain":["3.64","4.16","4.68","5.20"],"range":["#161616","#e8312c","#8cc84b","#2b5ca8"]},"legend":null}},
 "layer":[
  {"mark":{"type":"line","strokeWidth":2},"encoding":{"strokeDash":{"field":"l2","type":"nominal","scale":{"domain":["3.64","4.16","4.68","5.20"],"range":[[1,0],[9,5],[5,5],[16,4,4,4]]},"legend":null}}},
  {"mark":{"type":"point","filled":true,"opacity":1},"encoding":{"shape":{"field":"l2","type":"nominal","scale":{"domain":["3.64","4.16","4.68","5.20"],"range":["circle","square","diamond","triangle-up"]},"legend":null},"size":{"field":"l2","type":"ordinal","scale":{"domain":["3.64","4.16","4.68","5.20"],"range":[105,80,120,160]},"legend":null}}}
 ]},
{"width":150,"height":101.6,"view":{"fill":"white"},"data":{"name":"cells"},"transform":[{"filter":"datum.f1=='Blend' && datum.f2=='Power'"}],
 "encoding":{"x":{"field":"l1","type":"nominal","scale":{"type":"point","domain":["10","20","30","50"],"padding":0.55},"axis":null},
  "y":{"field":"y","type":"quantitative","scale":{"domain":[400,2030],"nice":false,"zero":false},"axis":null},
  "color":{"field":"l2","type":"nominal","scale":{"domain":["3.64","4.16","4.68","5.20"],"range":["#161616","#e8312c","#8cc84b","#2b5ca8"]},"legend":null}},
 "layer":[
  {"mark":{"type":"line","strokeWidth":2},"encoding":{"strokeDash":{"field":"l2","type":"nominal","scale":{"domain":["3.64","4.16","4.68","5.20"],"range":[[1,0],[9,5],[5,5],[16,4,4,4]]},"legend":null}}},
  {"mark":{"type":"point","filled":true,"opacity":1},"encoding":{"shape":{"field":"l2","type":"nominal","scale":{"domain":["3.64","4.16","4.68","5.20"],"range":["circle","square","diamond","triangle-up"]},"legend":null},"size":{"field":"l2","type":"ordinal","scale":{"domain":["3.64","4.16","4.68","5.20"],"range":[105,80,120,160]},"legend":null}}}
 ]},
{"width":150,"height":101.6,"view":{"fill":"#efece6"},
 "resolve":{"scale":{"color":"independent","shape":"independent"}},
 "layer":[
 {"data":{"values":[{"name":"Power"}]},"mark":{"type":"text","fontSize":18,"color":"#333"},"encoding":{"text":{"field":"name"}}},
 {"data":{"name":"cells"},"transform":[{"filter":"false"}],"mark":{"type":"point","filled":true,"size":100,"opacity":1},"encoding":{
   "x":{"field":"l2","type":"nominal","scale":{"type":"point","domain":["3.64","4.16","4.68","5.20"],"padding":0.55},"axis":{"orient":"bottom","title":null,"labelAngle":0}},
   "color":{"field":"l2","type":"nominal","scale":{"domain":["3.64","4.16","4.68","5.20"],"range":["#161616","#e8312c","#8cc84b","#2b5ca8"]},"legend":{"title":"Power","offset":81}},
   "shape":{"field":"l2","type":"nominal","scale":{"domain":["3.64","4.16","4.68","5.20"],"range":["M-3.5,-0.15H3.5V0.15H-3.5Z M1.1,0A1.1,1.1,0,1,1,-1.1,0A1.1,1.1,0,1,1,1.1,0Z","M-3.5,-0.15H-1V0.15H-3.5Z M-1,-1H1V1H-1Z M1.6,-0.15H2.9V0.15H1.6Z","M-3.5,-0.13H-2.6V0.13H-3.5Z M-2.2,-0.13H-1.3V0.13H-2.2Z M0,-1.3L1.3,0L0,1.3L-1.3,0Z M1.5,-0.13H2.4V0.13H1.5Z M2.8,-0.13H3.5V0.13H2.8Z","M-3.5,0.75H3.5V1.05H-3.5Z M0,-1.15L1.4,0.9L-1.4,0.9Z"]},"legend":{"title":"Power","offset":81}}}}
]}
],
"resolve": {"scale": {"color": "independent", "shape": "independent", "size": "independent", "strokeDash": "independent"}},
"config": {
 "font": "Liberation Sans",
 "view": {"stroke": "#111", "strokeWidth": 1.6},
 "axis": {"labelFontSize": 17, "labelColor": "#222", "tickColor": "#111", "tickWidth": 1.5, "tickSize": 7, "domain": false, "grid": false},
 "axisX": {"labelPadding": 5, "labelFontSize": 16},
 "axisY": {"labelPadding": 3},
 "legend": {"orient": "right", "titleAnchor": "end", "symbolOffset": 13, "labelOffset": 21, "symbolSize": 100, "symbolStrokeWidth": 0, "symbolOpacity": 1, "padding": 5, "rowPadding": 0, "titlePadding": 0, "strokeColor": "#111", "strokeWidth": 2, "fillColor": "white", "labelFontSize": 15, "titleFontSize": 15, "titleFontWeight": "normal", "labelColor": "#222", "titleColor": "#222"}
}
}
